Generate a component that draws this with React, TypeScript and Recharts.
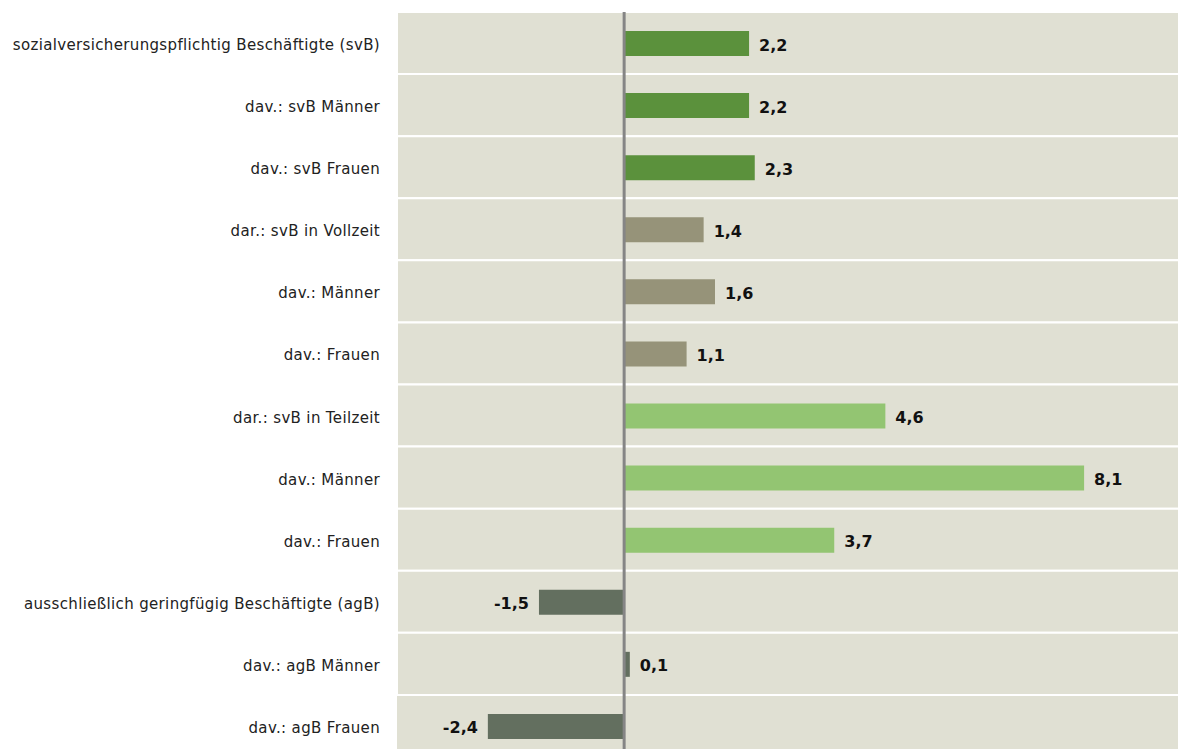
import React from 'react';
import { BarChart, Bar, XAxis, YAxis, CartesianGrid, ReferenceLine, ReferenceArea, Cell, LabelList } from 'recharts';

const categories = [
  'sozialversicherungspflichtig Beschäftigte (svB)',
  'dav.: svB Männer',
  'dav.: svB Frauen',
  'dar.: svB in Vollzeit',
  'dav.: Männer',
  'dav.: Frauen',
  'dar.: svB in Teilzeit',
  'dav.: Männer',
  'dav.: Frauen',
  'ausschließlich geringfügig Beschäftigte (agB)',
  'dav.: agB Männer',
  'dav.: agB Frauen',
];
const values = [2.2, 2.2, 2.3, 1.4, 1.6, 1.1, 4.6, 8.1, 3.7, -1.5, 0.1, -2.4];
const groupColors = ['#5b913c', '#969379', '#93c572', '#636f5f'];
const groupOf = [0, 0, 0, 1, 1, 1, 2, 2, 2, 3, 3, 3];

const data = categories.map((c, i) => ({ key: `${i}`, name: c, value: values[i] }));

const FONT = 'Tahoma, "DejaVu Sans", sans-serif';

const CatTick = (props: any) => {
  const { x, y, payload } = props;
  const idx = Number(payload.value);
  return (
    <text x={x} y={y} dy={7} textAnchor="end" fontFamily={FONT} fontSize={15} letterSpacing={0.35} fill="#222">
      {categories[idx]}
    </text>
  );
};

const ValueLabel = (props: any) => {
  const { x, y, width, height, value } = props;
  const v = Number(value);
  const txt = v.toFixed(1).replace('.', ',');
  const cy = Number(y) + Number(height) / 2 + 7;
  const x0 = Number(x);
  const w = Number(width);
  const left = Math.min(x0, x0 + w);
  const right = Math.max(x0, x0 + w);
  if (v >= 0) {
    return (
      <text x={right + 10} y={cy} textAnchor="start" fontFamily={FONT} fontWeight="bold" fontSize={16} fill="#111">
        {txt}
      </text>
    );
  }
  return (
    <text x={left - 10} y={cy} textAnchor="end" fontFamily={FONT} fontWeight="bold" fontSize={16} fill="#111">
      {txt}
    </text>
  );
};

export default function App() {
  return (
    <div style={{ position: 'absolute', left: 0, top: 0, width: 1178, height: 749, overflow: 'hidden', background: '#fff' }}>
      <BarChart
        width={1192}
        height={757}
        data={data}
        layout="vertical"
        margin={{ top: 12, right: 0, bottom: 0, left: 0 }}
        barSize={25}
      >
        <CartesianGrid fill="#e0e0d3" horizontal={false} vertical={false} />
        <XAxis type="number" domain={[-4, 10]} hide allowDataOverflow />
        <YAxis
          type="category"
          dataKey="key"
          width={397}
          axisLine={false}
          tickLine={false}
          tickSize={0}
          tickMargin={17}
          tick={<CatTick />}
          interval={0}
        />
        {data.map((d) => (
          <ReferenceArea
            key={d.key}
            y1={d.key}
            y2={d.key}
            fill="#e0e0d3"
            fillOpacity={1}
            stroke="#ffffff"
            strokeWidth={2}
          />
        ))}
        <Bar dataKey="value" isAnimationActive={false}>
          {data.map((d, i) => (
            <Cell key={i} fill={groupColors[groupOf[i]]} />
          ))}
          <LabelList dataKey="value" content={<ValueLabel />} />
        </Bar>
        <ReferenceLine x={0} stroke="#858585" strokeWidth={3} />
      </BarChart>
    </div>
  );
}
